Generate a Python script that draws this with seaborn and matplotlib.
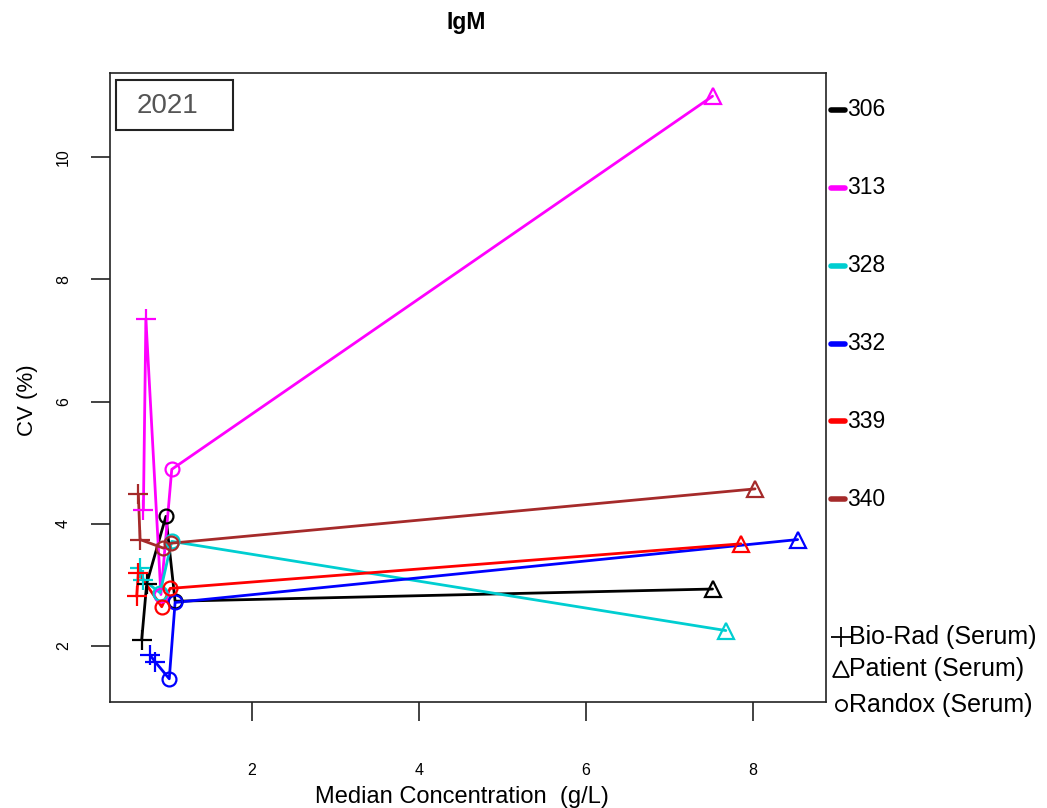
import numpy as np
import pandas as pd
import matplotlib
matplotlib.use("Agg")
import matplotlib.pyplot as plt
from matplotlib.lines import Line2D
from matplotlib.patches import Rectangle
import seaborn as sns

# ---- data: median concentration (g/L) and CV (%) per lab and material ----
labs = ["306", "313", "328", "332", "339", "340"]
lab_colors = ["black", "magenta", "darkturquoise", "blue", "red", "brown"]
materials = ["Bio-Rad (Serum)", "Patient (Serum)", "Randox (Serum)"]

lab_306_conc = [0.68, 0.74, 0.97, 1.08, 7.52]
lab_306_cv   = [2.10, 3.02, 4.12, 2.73, 2.93]
lab_313_conc = [0.70, 0.73, 0.91, 1.04, 7.52]
lab_313_cv   = [4.23, 7.35, 2.84, 4.89, 11.00]
lab_328_conc = [0.66, 0.70, 0.90, 1.04, 7.68]
lab_328_cv   = [3.27, 3.08, 2.87, 3.71, 2.25]
lab_332_conc = [0.78, 0.84, 1.01, 1.08, 8.54]
lab_332_cv   = [1.85, 1.74, 1.46, 2.71, 3.74]
lab_339_conc = [0.62, 0.64, 0.92, 1.02, 7.86]
lab_339_cv   = [2.81, 3.19, 2.64, 2.94, 3.67]
lab_340_conc = [0.64, 0.66, 0.94, 1.03, 8.03]
lab_340_cv   = [4.48, 3.74, 3.60, 3.68, 4.57]

# material of each point, in the same order as the arrays above
point_material = [materials[0], materials[0], materials[2], materials[2], materials[1]]

conc = [lab_306_conc, lab_313_conc, lab_328_conc, lab_332_conc, lab_339_conc, lab_340_conc]
cv = [lab_306_cv, lab_313_cv, lab_328_cv, lab_332_cv, lab_339_cv, lab_340_cv]

rows = []
for lab, xs, ys in zip(labs, conc, cv):
    for xv, yv, m in zip(xs, ys, point_material):
        rows.append({"lab": lab, "conc": xv, "cv": yv, "material": m})
df = pd.DataFrame(rows)

# ---- figure ----
sns.set_theme(style="ticks")
plt.rcParams["font.family"] = ["Liberation Sans", "DejaVu Sans"]
plt.rcParams["text.color"] = "black"
plt.rcParams["xtick.labelcolor"] = "black"
plt.rcParams["ytick.labelcolor"] = "black"

W, H = 1047, 808
fig = plt.figure(figsize=(W / 100, H / 100), dpi=100)
ax = fig.add_axes([110 / W, 1 - 702 / H, (826 - 110) / W, (702 - 73) / H])

palette = dict(zip(labs, lab_colors))
sns.lineplot(data=df, x="conc", y="cv", hue="lab", palette=palette,
             hue_order=labs, sort=True, estimator=None, lw=2,
             legend=False, ax=ax)

marker_style = {materials[0]: ("+", 15, 1.6), materials[1]: ("^", 12, 1.6),
                materials[2]: ("o", 10, 1.6)}
for lab in labs:
    sub = df[df["lab"] == lab]
    for mat, (mk, ms, mew) in marker_style.items():
        s = sub[sub["material"] == mat]
        ax.plot(s["conc"], s["cv"], ls="none", marker=mk, ms=ms, mew=mew,
                mfc="none", mec=palette[lab], zorder=3)

ax.set_xlim(0.30, 8.88)
ax.set_ylim(1.08, 11.38)
ax.set_xticks([2, 4, 6, 8])
ax.set_yticks([2, 4, 6, 8, 10])
ax.tick_params(axis="x", length=14, width=1.2, color="#222222", pad=30, labelsize=11.5)
ax.tick_params(axis="y", length=14, width=1.2, color="#222222", pad=14, labelsize=11.5,
               labelrotation=90)
for lbl in ax.get_yticklabels():
    lbl.set_verticalalignment("center")
for sp in ax.spines.values():
    sp.set_visible(True)
    sp.set_color("#222222")
    sp.set_linewidth(1.2)
ax.set_xlabel("")
ax.set_ylabel("")

fig.text(462 / W, 1 - 797 / H, "Median Concentration  (g/L)", ha="center",
         va="center", fontsize=17)
fig.text(27 / W, 1 - 400 / H, "CV (%)", ha="center", va="center",
         rotation=90, fontsize=16)
fig.text(466 / W, 1 - 22 / H, "IgM", ha="center", va="center",
         fontsize=16.5, fontweight="bold")

# year box
fig.add_artist(Rectangle((116 / W, 1 - 130 / H), (233 - 116) / W, 50 / H,
                         transform=fig.transFigure, fill=False,
                         ec="#222222", lw=1.5))
fig.text(168 / W, 1 - 106 / H, "2021", ha="center", va="center",
         fontsize=20, color="#555555")

# lab key at the right
key_y = [110, 188, 266, 344, 421, 499]
for lab, yk in zip(labs, key_y):
    fig.add_artist(Line2D([831 / W, 845 / W], [1 - yk / H, 1 - yk / H],
                          transform=fig.transFigure, color=palette[lab],
                          lw=4, solid_capstyle="round"))
    fig.text(847 / W, 1 - yk / H, lab, ha="left", va="center", fontsize=16.5)

# material key
mat_y = [637, 669, 705]
mat_mk = [("+", 14), ("^", 12), ("o", 8)]
for mat, yk, (mk, ms) in zip(materials, mat_y, mat_mk):
    fig.add_artist(Line2D([841 / W], [1 - yk / H], transform=fig.transFigure,
                          ls="none", marker=mk, ms=ms, mfc="none", mec="black",
                          mew=1.3))
    fig.text(849 / W, 1 - yk / H, mat, ha="left", va="center", fontsize=18)

fig.savefig("out.png", dpi=100)
